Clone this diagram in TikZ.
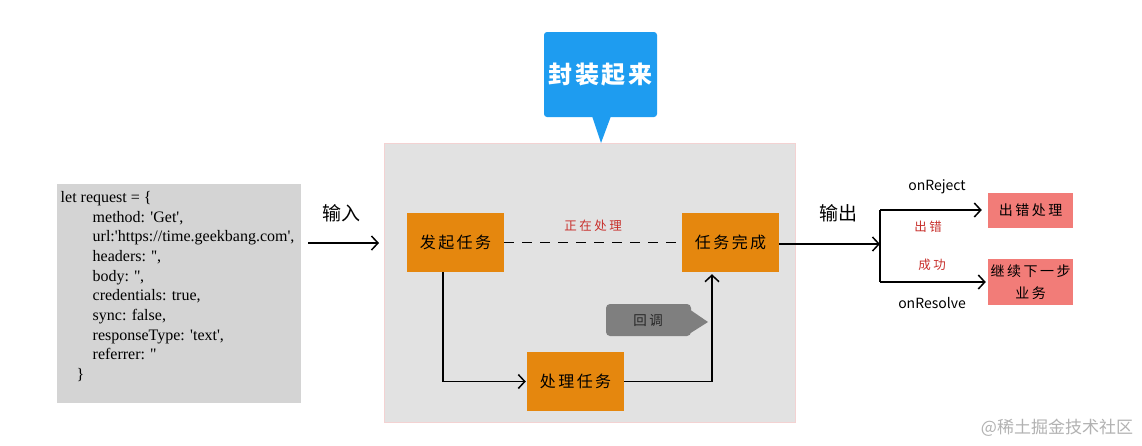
\documentclass[tikz,border=0pt]{standalone}
\usepackage{fontspec}
\setmainfont{Noto Sans CJK SC}
\newfontfamily\codefont{Liberation Serif}[Ligatures=TeXOff]
\usetikzlibrary{arrows.meta}
\definecolor{orangebox}{HTML}{E5870E}
\definecolor{redbox}{HTML}{F27C78}
\definecolor{bluec}{HTML}{1E9CF0}
\definecolor{grayc}{HTML}{7F7F7F}
\definecolor{codebg}{HTML}{D4D4D4}
\definecolor{contbg}{HTML}{E2E2E2}
\definecolor{contborder}{HTML}{F3D2D2}
\definecolor{redtext}{HTML}{C8302C}
\newcommand\kk{\hspace{2.5pt}}
\begin{document}
\begin{tikzpicture}[x=1pt,y=-1pt,
  obox/.style={fill=orangebox, minimum width=97pt, minimum height=59pt, inner sep=0pt, font=\fontsize{16}{16}\selectfont},
  rbox/.style={fill=redbox, minimum width=85pt, inner sep=0pt, align=center, font=\fontsize{14}{22}\selectfont},
  conn/.style={draw=black, line width=1.7pt, -{Straight Barb[length=6.5pt,width=14pt,line width=1.5pt]}},
  plain/.style={draw=black, line width=1.7pt},
  lbl/.style={inner sep=0pt, font=\fontsize{14}{14}\selectfont},
  redlbl/.style={inner sep=0pt, text=redtext, font=\fontsize{12.5}{12.5}\selectfont},
  big/.style={inner sep=0pt, font=\fontsize{19}{19}\selectfont}
]
\useasboundingbox (0,0) rectangle (1142,445);
\fill[white] (0,0) rectangle (1142,445);

% code box
\fill[codebg] (57,184) rectangle (301,403);
\node[anchor=north west, align=left, inner sep=0pt, font=\codefont\fontsize{16}{19.7}\selectfont] (code) at (60.5,191) {%
let request = \{\\
\hspace*{32pt}method: 'Get',\\
\hspace*{32pt}url:'https://time.geekbang.com',\\
\hspace*{32pt}headers: '',\\
\hspace*{32pt}body: '',\\
\hspace*{32pt}credentials: true,\\
\hspace*{32pt}sync: false,\\
\hspace*{32pt}responseType: 'text',\\
\hspace*{32pt}referrer: ''\\
\hspace*{16pt}\}};

% container
\draw[contborder, fill=contbg, line width=1pt] (384,143) rectangle (795,422);

% blue callout
\fill[bluec, rounded corners=3pt] (544,32) rectangle (657,117);
\fill[bluec] (592,116) -- (601,143) -- (611,116) -- cycle;
\node[inner sep=0pt, text=white, font=\fontsize{24}{24}\selectfont\bfseries] (fz) at (600.5,75) {封\kk 装\kk 起\kk 来};

% input
\coordinate (inS) at (308,243);
\coordinate (inE) at (379,243);
\draw[conn] (inS) -- (inE);
\node[big] (shuru) at (341,213) {输入};

% orange boxes
\node[obox] (fa) at (455.5,242.5) {发\kk 起\kk 任\kk 务};
\node[obox] (tc) at (730.5,242.5) {任\kk 务\kk 完\kk 成};
\node[obox] (cl) at (575.5,381.5) {处\kk 理\kk 任\kk 务};

\draw[line width=1.3pt, dash pattern=on 10pt off 8pt] (fa.east) -- (tc.west);
\node[redlbl] (zz) at (593,226) {正\kk 在\kk 处\kk 理};

\draw[conn, shorten >=1pt] ([xshift=-12.5pt]fa.south) |- (cl.west);
\draw[conn, shorten >=2pt] (cl.east) -| ([xshift=-18.5pt]tc.south);

% callback callout
\fill[grayc, rounded corners=4pt] (606,304) rectangle (691,336);
\fill[grayc] (689,309) -- (708,322) -- (689,334) -- cycle;
\node[inner sep=0pt, text=black!85, font=\fontsize{13.5}{13.5}\selectfont] (hd) at (648,321) {回\kk 调};

% output
\coordinate (j) at (880,244);
\coordinate (jt) at (880,210);
\coordinate (jb) at (880,282);
\draw[conn] (tc.east |- j) -- (j);
\node[big] (shuchu) at (838,213) {输出};
\draw[plain] (jt) -- (jb);

\node[rbox, minimum height=35pt] (e1) at (1030.5,210) {出\kk 错\kk 处\kk 理};
\node[rbox, minimum height=46pt] (e2) at (1030.5,282) {继\kk 续\kk 下\kk 一\kk 步\\业\kk 务};

\draw[conn, shorten >=6pt] (jt) -- (e1.west);
\draw[conn, shorten >=2pt] (jb) -- (e2.west);

\node[lbl] (rej) at (937,187) {onReject};
\node[redlbl] (cc) at (928,227) {出\kk 错};
\node[redlbl] (cg) at (932,265) {成\kk 功};
\node[lbl] (res) at (932,303) {onResolve};

% watermark
\node[inner sep=0pt, text=black!30, font=\fontsize{17}{17}\selectfont] (wm) at (1057,428) {@稀土掘金技术社区};
\end{tikzpicture}
\end{document}
